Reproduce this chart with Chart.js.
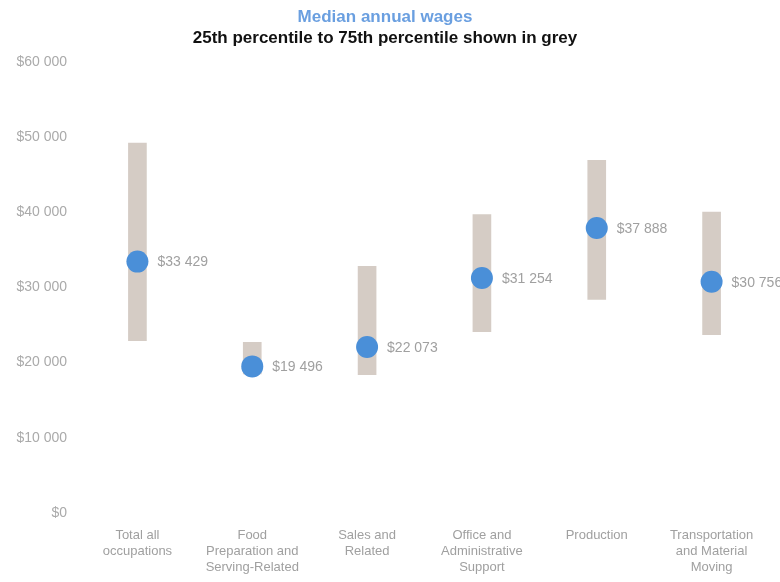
<!DOCTYPE html>
<html>
<head>
<meta charset="utf-8">
<script src="https://cdn.jsdelivr.net/npm/chart.js@4"></script>
<style>
  html, body { margin: 0; padding: 0; background: #fff; }
  #wrap { width: 780px; height: 582px; }
</style>
</head>
<body>
<div id="wrap"><canvas id="wages-canvas"></canvas></div>
<script>
const categories = [
  ["Total all", "occupations"],
  ["Food", "Preparation and", "Serving-Related"],
  ["Sales and", "Related"],
  ["Office and", "Administrative", "Support"],
  ["Production"],
  ["Transportation", "and Material", "Moving"]
];
const medianWage = [33429, 19496, 22073, 31254, 37888, 30756];
const p25Wage = [22900, 18500, 18400, 24100, 28400, 23700];
const p75Wage = [49200, 22700, 32800, 39700, 46900, 40000];
const yTicks = [0, 10000, 20000, 30000, 40000, 50000, 60000];

function money(v) {
  return "$" + v.toString().replace(/\B(?=(\d{3})+(?!\d))/g, " ");
}

let rangeData = p25Wage.map(function (lo, i) { return [lo, p75Wage[i]]; });

// labels next to the blue dots
const dotLabels = {
  id: "dotLabels",
  afterDatasetsDraw(chart) {
    let ctx = chart.ctx;
    let meta = chart.getDatasetMeta(1);
    ctx.save();
    ctx.font = "14px 'Liberation Sans', Arial, sans-serif";
    ctx.fillStyle = "#a0a0a0";
    ctx.textBaseline = "middle";
    meta.data.forEach(function (pt, i) {
      ctx.fillText(money(medianWage[i]), pt.x + 20, pt.y + 1);
    });
    ctx.restore();
  }
};

let ctx = document.getElementById("wages-canvas").getContext("2d");
window.myChart = new Chart(ctx, {
  type: "bar",
  data: {
    labels: categories,
    datasets: [
      {
        label: "25th to 75th percentile",
        data: rangeData,
        backgroundColor: "#d5ccc5",
        borderWidth: 0,
        barThickness: 18,
        order: 2
      },
      {
        type: "line",
        label: "Median",
        data: medianWage,
        showLine: false,
        pointRadius: 11,
        pointHoverRadius: 11,
        pointBackgroundColor: "#4a8fd8",
        pointBorderColor: "#4a8fd8",
        pointBorderWidth: 0,
        order: 1
      }
    ]
  },
  options: {
    responsive: true,
    maintainAspectRatio: false,
    animation: false,
    layout: { padding: { left: 0, right: 10, top: 6, bottom: 0 } },
    plugins: {
      legend: { display: false },
      tooltip: { enabled: false },
      title: {
        display: true,
        text: "Median annual wages",
        color: "#6a9fe0",
        font: { family: "'Liberation Sans', Arial, sans-serif", size: 17, weight: "bold" },
        padding: { top: 1, bottom: 1 }
      },
      subtitle: {
        display: true,
        text: "25th percentile to 75th percentile shown in grey",
        color: "#111",
        font: { family: "'Liberation Sans', Arial, sans-serif", size: 17, weight: "bold" },
        padding: { top: 0, bottom: 13 }
      }
    },
    scales: {
      x: {
        grid: { display: false, drawTicks: false },
        border: { display: false },
        afterFit: function (scale) { scale.height = 69; },
        ticks: {
          color: "#a0a0a0",
          padding: 14,
          maxRotation: 0,
          font: { family: "'Liberation Sans', Arial, sans-serif", size: 13, lineHeight: 1.23 }
        }
      },
      y: {
        min: 0,
        max: 60000,
        afterBuildTicks: function (scale) {
          scale.ticks = yTicks.map(function (v) { return { value: v }; });
        },
        afterFit: function (scale) { scale.width = 80; },
        grid: { display: false, drawTicks: false },
        border: { display: false },
        ticks: {
          color: "#aaaaaa",
          padding: 13,
          font: { family: "'Liberation Sans', Arial, sans-serif", size: 14 },
          callback: function (v) { return money(v); }
        }
      }
    }
  },
  plugins: [dotLabels]
});
</script>
</body>
</html>
